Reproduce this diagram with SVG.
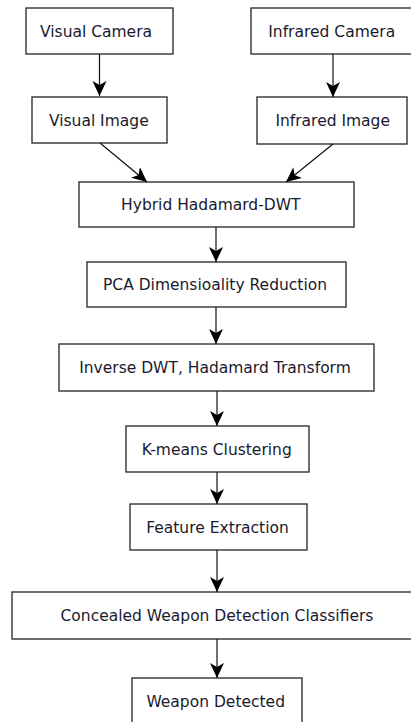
<svg xmlns="http://www.w3.org/2000/svg" width="411" height="722" viewBox="0 0 411 722">
<style>
.box{fill:#fff;stroke:#333;stroke-width:1.4}
.lbl{font-family:"DejaVu Sans",Verdana,sans-serif;font-size:15.5px;fill:#1a1a2e;text-anchor:middle}
.conn{stroke:#111;stroke-width:1.2;fill:none;marker-end:url(#ah)}
</style>
<defs>
<marker id="ah" markerUnits="userSpaceOnUse" markerWidth="16" markerHeight="16" refX="15" refY="7" orient="auto">
<path d="M0,0 L15,7 L0,14 L4,7 z" fill="#000"/>
</marker>
</defs>
<rect width="411" height="722" fill="#fff"/>
<g id="n-visual-camera"><rect class="box" x="26" y="8" width="147" height="46"/><text class="lbl" x="96" y="36.8">Visual Camera</text></g>
<g id="n-infrared-camera"><rect class="box" x="251" y="8" width="170" height="46"/><text class="lbl" x="331.7" y="36.8">Infrared Camera</text></g>
<g id="n-visual-image"><rect class="box" x="32" y="97" width="135" height="46"/><text class="lbl" x="98.8" y="125.7">Visual Image</text></g>
<g id="n-infrared-image"><rect class="box" x="257" y="97" width="150" height="47"/><text class="lbl" x="332.7" y="126.2">Infrared Image</text></g>
<g id="n-hybrid"><rect class="box" x="79" y="182" width="275" height="45"/><text class="lbl" x="210.8" y="210">Hybrid Hadamard-DWT</text></g>
<g id="n-pca"><rect class="box" x="87" y="262" width="259" height="45"/><text class="lbl" x="215" y="290">PCA Dimensioality Reduction</text></g>
<g id="n-inverse"><rect class="box" x="59" y="344" width="315" height="47"/><text class="lbl" x="215" y="373">Inverse DWT, Hadamard Transform</text></g>
<g id="n-kmeans"><rect class="box" x="126" y="426" width="183" height="46"/><text class="lbl" x="216.7" y="454.7">K-means Clustering</text></g>
<g id="n-feature"><rect class="box" x="130" y="504" width="177" height="46"/><text class="lbl" x="217.5" y="532.7">Feature Extraction</text></g>
<g id="n-classifiers"><rect class="box" x="12" y="592" width="410" height="47"/><text class="lbl" x="217" y="621">Concealed Weapon Detection Classifiers</text></g>
<g id="n-detected"><rect class="box" x="132" y="678" width="170" height="50"/><text class="lbl" x="215.7" y="706.7">Weapon Detected</text></g>
<g id="connectors">
<line class="conn" x1="99.5" y1="54" x2="99.5" y2="96"/>
<line class="conn" x1="333" y1="54" x2="333" y2="97"/>
<line class="conn" x1="100" y1="143" x2="147" y2="182"/>
<line class="conn" x1="333" y1="144" x2="286" y2="182"/>
<line class="conn" x1="216" y1="227" x2="216" y2="262"/>
<line class="conn" x1="216" y1="307" x2="216" y2="344"/>
<line class="conn" x1="217" y1="391" x2="217" y2="426"/>
<line class="conn" x1="217" y1="472" x2="217" y2="504"/>
<line class="conn" x1="217" y1="550" x2="217" y2="592"/>
<line class="conn" x1="217" y1="639" x2="217" y2="678"/>
</g>
</svg>
